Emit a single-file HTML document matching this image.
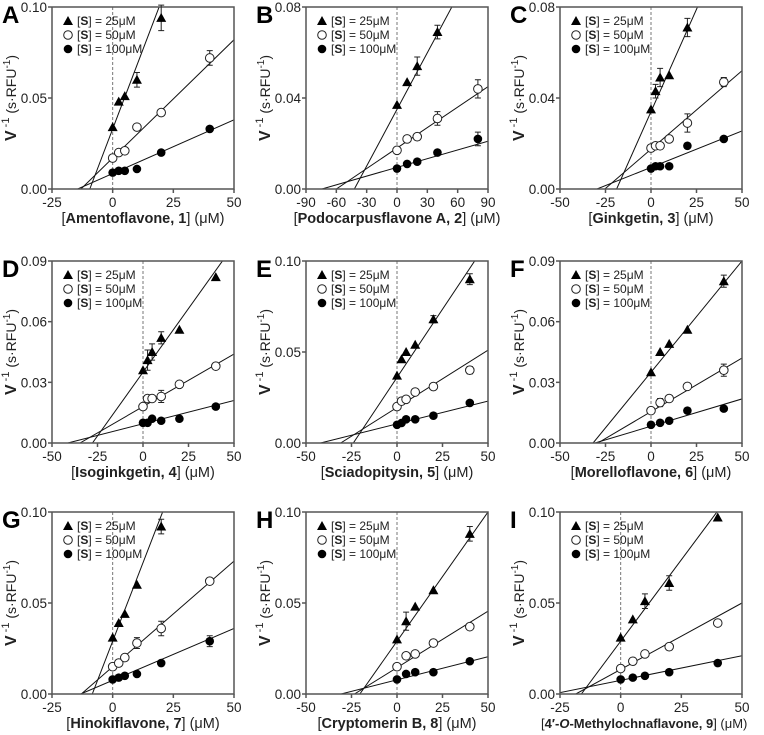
<!DOCTYPE html>
<html><head><meta charset="utf-8">
<style>
html,body{margin:0;padding:0;background:#fff;}
svg{display:block;font-family:"Liberation Sans",sans-serif;}
</style></head>
<body>
<svg id="fig" width="764" height="735" viewBox="0 0 764 735"></svg>
<script>
// ---- data ----
const panelLetters = ["A","B","C","D","E","F","G","H","I"];
const compoundNames = ["Amentoflavone, 1","Podocarpusflavone A, 2","Ginkgetin, 3","Isoginkgetin, 4","Sciadopitysin, 5","Morelloflavone, 6","Hinokiflavone, 7","Cryptomerin B, 8","4′-O-Methylochnaflavone, 9"];
const xDomains = [[-25,50],[-90,90],[-50,50],[-50,50],[-50,50],[-50,50],[-25,50],[-50,50],[-25,50]];
const yMaxes = [0.10,0.08,0.08,0.09,0.10,0.09,0.10,0.10,0.10];
const xTickLabels = [[-25,0,25,50],[-90,-60,-30,0,30,60,90],[-50,-25,0,25,50],[-50,-25,0,25,50],[-50,-25,0,25,50],[-50,-25,0,25,50],[-25,0,25,50],[-50,-25,0,25,50],[-25,0,25,50]];
const yTickLabels = [["0.00","0.05","0.10"],["0.00","0.04","0.08"],["0.00","0.04","0.08"],["0.00","0.03","0.06","0.09"],["0.00","0.05","0.10"],["0.00","0.03","0.06","0.09"],["0.00","0.05","0.10"],["0.00","0.05","0.10"],["0.00","0.05","0.10"]];
const seriesLabels = ["[S] = 25μM","[S] = 50μM","[S] = 100μM"];
const xs25 = [[0,2.5,5,10,20],[0,10,20,40],[0,2.5,5,10,20],[0,2.5,5,10,20,40],[0,2.5,5,10,20,40],[0,5,10,20,40],[0,2.5,5,10,20],[0,5,10,20,40],[0,5,10,20,40]];
const xs50 = [[0,2.5,5,10,20,40],[0,10,20,40,80],[0,2.5,5,10,20,40],[0,2.5,5,10,20,40],[0,2.5,5,10,20,40],[0,5,10,20,40],[0,2.5,5,10,20,40],[0,5,10,20,40],[0,5,10,20,40]];
const xs100 = xs50;
const ys25 = [[0.034,0.048,0.051,0.060,0.094],[0.037,0.047,0.054,0.069],[0.035,0.043,0.049,0.050,0.071],[0.036,0.041,0.045,0.052,0.056,0.082],[0.037,0.046,0.050,0.054,0.068,0.090],[0.035,0.045,0.049,0.056,0.080],[0.031,0.039,0.044,0.060,0.092],[0.030,0.040,0.048,0.057,0.088],[0.031,0.041,0.051,0.061,0.097]];
const ys50 = [[0.017,0.020,0.021,0.034,0.042,0.072],[0.017,0.022,0.023,0.031,0.044],[0.018,0.019,0.019,0.022,0.029,0.047],[0.018,0.022,0.022,0.023,0.029,0.038],[0.020,0.023,0.024,0.028,0.031,0.040],[0.016,0.020,0.022,0.028,0.036],[0.015,0.017,0.020,0.028,0.036,0.062],[0.015,0.021,0.022,0.028,0.037],[0.014,0.018,0.022,0.026,0.039]];
const ys100 = [[0.009,0.010,0.010,0.011,0.020,0.033],[0.009,0.011,0.012,0.016,0.022],[0.009,0.010,0.010,0.010,0.019,0.022],[0.010,0.010,0.012,0.011,0.012,0.018],[0.010,0.011,0.013,0.013,0.015,0.022],[0.009,0.010,0.011,0.016,0.017],[0.008,0.009,0.010,0.011,0.017,0.029],[0.008,0.011,0.012,0.012,0.018],[0.008,0.009,0.010,0.012,0.017]];
const err25 = [[0,0,0,0.004,0.007],[0,0,0.004,0.003],[0,0.003,0.004,0,0.004],[0,0.005,0.004,0.003,0,0],[0,0,0,0,0.002,0.003],[0,0,0,0,0.003],[0,0,0,0,0.004],[0,0.005,0,0,0.004],[0,0,0.004,0.004,0]];
const err50 = [[0,0,0,0,0,0.004],[0,0,0,0.003,0.004],[0,0,0,0,0.004,0.002],[0,0,0,0.003,0,0],[0,0,0,0,0,0.002],[0,0.002,0,0,0.003],[0,0,0,0.003,0.004,0],[0,0,0,0,0],[0,0,0,0,0]];
const err100 = [[0,0,0,0,0,0],[0,0,0,0,0.003],[0,0,0,0,0,0],[0,0,0,0,0,0],[0,0,0,0,0,0],[0,0,0,0,0],[0,0,0,0,0,0.003],[0,0,0,0,0],[0,0,0,0,0]];
const fit25 = [[0.033,0.0035],[0.035,0.00083],[0.034,0.0018],[0.035,0.00126],[0.036,0.0015],[0.035,0.0011],[0.029,0.00345],[0.029,0.00142],[0.029,0.00179]];
const fit50 = [[0.017,0.0013],[0.018,0.0003],[0.0175,0.00069],[0.018,0.00052],[0.0195,0.00063],[0.0155,0.00053],[0.015,0.00116],[0.0145,0.00062],[0.0135,0.00073]];
const fit100 = [[0.0085,0.00059],[0.0095,0.000128],[0.0095,0.00032],[0.0095,0.00023],[0.0105,0.00025],[0.0083,0.00027],[0.0075,0.00057],[0.0078,0.000254],[0.0075,0.00027]];

// ---- layout ----
const colLeft = [52,306,560], rowTop = [7,261,512], PW = 182, PH = 182;
const NS = "http://www.w3.org/2000/svg";
const svg = document.getElementById("fig");
function mk(tag, attrs, parent){ const e=document.createElementNS(NS,tag); for(const k in attrs) e.setAttribute(k,attrs[k]); (parent||svg).appendChild(e); return e; }

const defs = mk("defs",{});
for(let p=0;p<9;p++){
  const L = colLeft[p%3], T = rowTop[Math.floor(p/3)], B = T+PH, R = L+PW;
  const [x0,x1] = xDomains[p], yMax = yMaxes[p];
  const sx = v => L + (v-x0)/(x1-x0)*PW;
  const sy = v => B - v/yMax*PH;
  const g = mk("g",{});
  
  
  const cp = mk("clipPath",{id:"clip"+p},defs);
  mk("rect",{x:L,y:T,width:PW,height:PH},cp);

  const lt = mk("text",{x:L-50,y:T+16,"font-size":24,"font-weight":"bold",fill:"#000"},g);
  lt.textContent = panelLetters[p];
  
  

  const zl = mk("line",{x1:sx(0),x2:sx(0),y1:T,y2:B,stroke:"#777","stroke-width":1,"stroke-dasharray":"3,2"},g);
  
  

  const fits=[fit25[p],fit50[p],fit100[p]];
  fits.forEach((f,i)=>{
    const xa = -f[0]/f[1];
    const ln = mk("line",{x1:sx(xa),y1:sy(0),x2:sx(x1),y2:sy(f[0]+f[1]*x1),stroke:"#111","stroke-width":1,"clip-path":"url(#clip"+p+")"},g);
    
    
  });

  const ax = mk("path",{d:`M${L},${T}V${B}H${R}V${T}H${L}`,fill:"none",stroke:"#555","stroke-width":1.5},g);
  
  

  xTickLabels[p].forEach(v=>{
    mk("line",{x1:sx(v),x2:sx(v),y1:B,y2:B+4,stroke:"#555","stroke-width":1.5},g);
    const t = mk("text",{x:sx(v),y:B+18,"font-size":13.5,"text-anchor":"middle",fill:"#222"},g);
    t.textContent = v;
    
    
  });
  yTickLabels[p].forEach(s=>{
    const v = parseFloat(s);
    mk("line",{x1:L-4,x2:L,y1:sy(v),y2:sy(v),stroke:"#555","stroke-width":1.5},g);
    const t = mk("text",{x:L-5,y:sy(v)+5,"font-size":13.5,"text-anchor":"end",fill:"#222"},g);
    t.textContent = s;
    
    
  });

  const yt = mk("text",{transform:`translate(${L-36},${T+PH/2}) rotate(-90)`,"text-anchor":"middle","font-size":16,fill:"#222"},g);
  
  
  yt.innerHTML = '<tspan font-weight="bold">V</tspan><tspan font-size="11" dy="-7"> -1</tspan><tspan font-size="14" dy="7"> (s·RFU</tspan><tspan font-size="10" dy="-6">-1</tspan><tspan font-size="14" dy="6">)</tspan>';

  const nm = compoundNames[p];
  const isLong = nm.includes("-O-");
  const xtAttrs = isLong
    ? {x:541,y:B+34,"text-anchor":"start","font-size":13,fill:"#222"}
    : {x:L+PW/2,y:B+34,"text-anchor":"middle","font-size":14.5,fill:"#222"};
  const xt = mk("text",xtAttrs,g);
  
  
  const bold = isLong ? '4′-<tspan font-style="italic">O</tspan>-Methylochnaflavone, 9' : nm;
  xt.innerHTML = '[<tspan font-weight="bold">'+bold+'</tspan>] (μM)';

  const xsArr=[xs25[p],xs50[p],xs100[p]], ysArr=[ys25[p],ys50[p],ys100[p]], erArr=[err25[p],err50[p],err100[p]];
  const drawMarker=(i,cx,cy,parent)=>{
    if(i===0) return mk("path",{d:`M${cx},${cy-5}L${cx+5},${cy+4}L${cx-5},${cy+4}Z`,fill:"#000"},parent);
    if(i===1) return mk("circle",{cx,cy,r:4.3,fill:"#fff",stroke:"#222","stroke-width":1},parent);
    return mk("circle",{cx,cy,r:4.3,fill:"#000"},parent);
  };
  [2,1,0].forEach(i=>{
    xsArr[i].forEach((xv,j)=>{
      const yv = ysArr[i][j], e = erArr[i][j]||0;
      if(e>0){
        const eb = mk("path",{d:`M${sx(xv)},${sy(yv+e)}V${sy(yv-e)}M${sx(xv)-3},${sy(yv+e)}h6M${sx(xv)-3},${sy(yv-e)}h6`,stroke:"#222","stroke-width":1,fill:"none"},g);
        
        
      }
      const m = drawMarker(i,sx(xv),sy(yv),g);
      
      
    });
  });

  const lg = mk("g",{},g);
  
  
  seriesLabels.forEach((s,i)=>{
    const cy = T+14+i*14;
    drawMarker(i,L+16,cy,lg);
    const t = mk("text",{x:L+25,y:cy+4,"font-size":12,fill:"#222"},lg);
    t.innerHTML = '[<tspan font-weight="bold">S</tspan>]'+s.slice(3);
    
    
  });
}
</script>
</body></html>
